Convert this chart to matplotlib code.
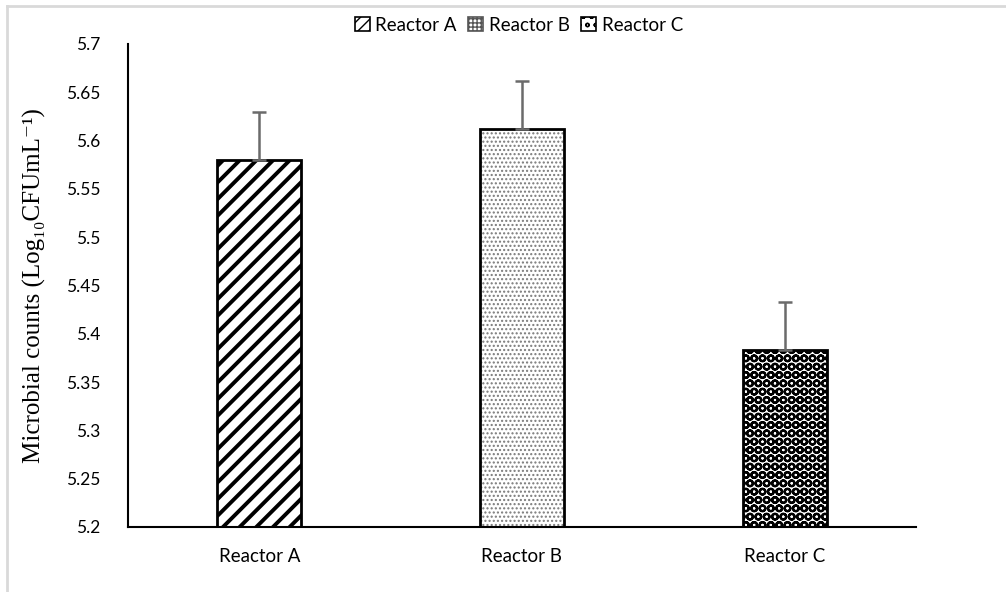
import matplotlib.pyplot as plt
import matplotlib as mpl
from matplotlib.patches import Patch
from matplotlib.lines import Line2D

# data
reactors = ["Reactor A", "Reactor B", "Reactor C"]
counts = [5.58, 5.612, 5.383]
errors = [0.05, 0.05, 0.05]
hatches = ["//", "....", "OO"]
hatch_cols = ["black", "#7a7a7a", "black"]
hatch_lws = [2.8, 1.0, 1.6]
yticks = [5.2, 5.25, 5.3, 5.35, 5.4, 5.45, 5.5, 5.55, 5.6, 5.65, 5.7]

fig = plt.figure(figsize=(10.06, 5.92), dpi=100)
ax = fig.add_axes([0.1272, 0.1098, 0.7833, 0.8159])

x = list(range(len(reactors)))
for i in x:
    with mpl.rc_context({"hatch.linewidth": hatch_lws[i]}):
        ax.bar(i, counts[i] - 5.2, bottom=5.2, width=0.32, facecolor="white",
               edgecolor=hatch_cols[i], hatch=hatches[i], linewidth=0, zorder=2)
    # outline on top of hatch
    ax.bar(i, counts[i] - 5.2, bottom=5.2, width=0.32, facecolor="none",
           edgecolor="black", linewidth=2, zorder=3)

ax.errorbar(x, counts, yerr=[[0] * 3, errors], fmt="none", ecolor="#6b6b6b",
            elinewidth=1.8, capsize=5, capthick=1.8, zorder=4)

ax.set_xlim(-0.5, 2.5)
ax.set_ylim(5.2, 5.7)
ax.set_yticks(yticks)
ax.set_yticklabels([f"{t:g}" for t in yticks], fontsize=12.5, family="Lato")
ax.set_xticks(x)
ax.set_xticklabels(reactors, fontsize=13.5, family="Lato")
ax.tick_params(length=0, pad=20)
ax.tick_params(axis="x", pad=15)
for s in ["top", "right"]:
    ax.spines[s].set_visible(False)
for s in ["left", "bottom"]:
    ax.spines[s].set_linewidth(1.5)

ax.set_ylabel("Microbial counts (Log₁₀CFUmL⁻¹)", fontsize=18,
              family=["Liberation Serif", "DejaVu Serif"], labelpad=14)

# legend swatches: small outlined squares, denser pattern
leg_hatch = ["///", "++++", "oo"]
leg_cols = ["black", "#555555", "black"]
handles = []
for i in x:
    with mpl.rc_context({"hatch.linewidth": 1.5}):
        handles.append(Patch(facecolor="white", edgecolor=leg_cols[i],
                             hatch=leg_hatch[i], linewidth=1.2))
leg = ax.legend(handles, reactors, loc="center", bbox_to_anchor=(0.496, 1.039),
                ncol=3, frameon=False, prop={"family": "Lato", "size": 13.5},
                handlelength=0.8, handleheight=0.8, handletextpad=0.3,
                columnspacing=0.6)

# light grey chart border (left and top only visible)
fig.add_artist(Line2D([0.0065, 0.0065], [0, 0.99], transform=fig.transFigure,
                      color="#d9d9d9", linewidth=2))
fig.add_artist(Line2D([0.0065, 1], [0.99, 0.99], transform=fig.transFigure,
                      color="#d9d9d9", linewidth=2))

fig.savefig("out.png", dpi=100)
